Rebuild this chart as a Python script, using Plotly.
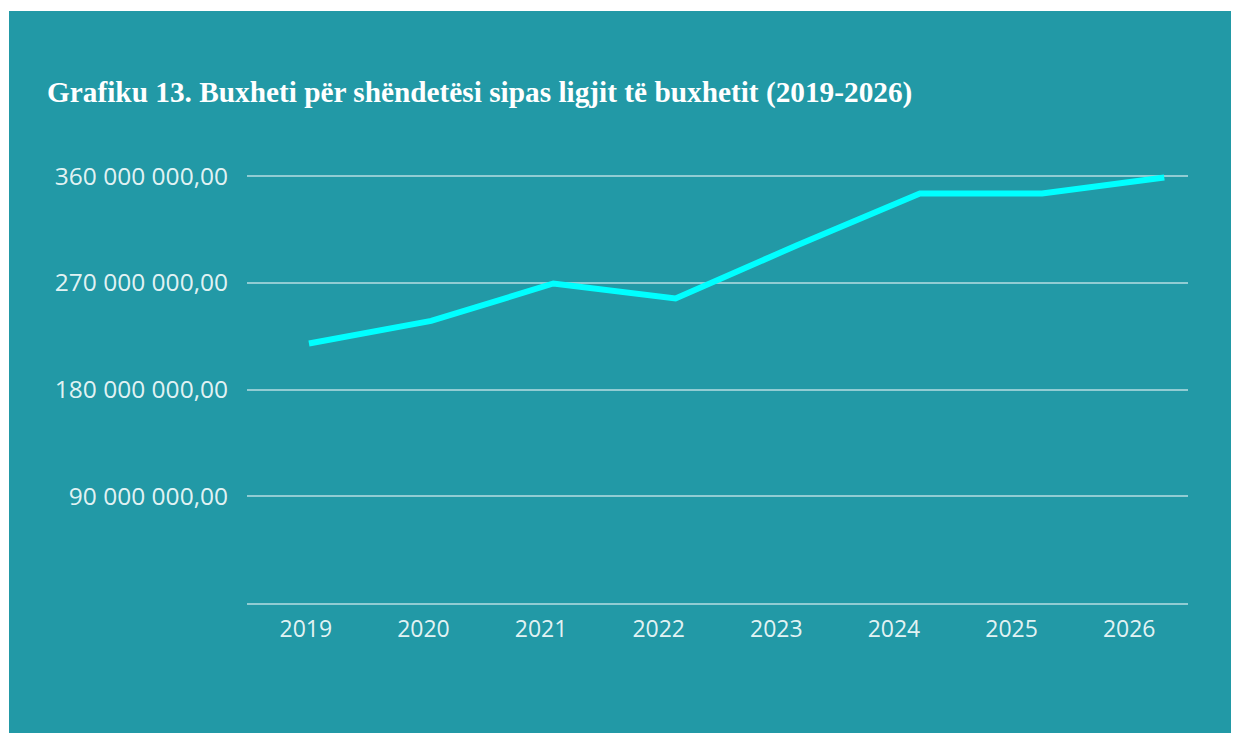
import plotly.graph_objects as go

years = ["2019", "2020", "2021", "2022", "2023", "2024", "2025", "2026"]
budget = [218.9e6, 237.9e6, 269.5e6, 256.8e6, 302.0e6, 345.4e6, 345.4e6, 358.9e6]
y_tickvals = [90e6, 180e6, 270e6, 360e6]
y_ticktext = ["90 000 000,00", "180 000 000,00", "270 000 000,00", "360 000 000,00"]
title_text = "Grafiku 13. Buxheti për shëndetësi sipas ligjit të buxhetit (2019-2026)"

TEAL = "#2299a6"
GRID = "rgba(255,255,255,0.5)"
LABEL = "rgba(245,252,252,0.93)"

# the page body adds an 8px offset, so the figure is sized to end at the window edge
W, H = 1231, 725
ml, mr, mt, mb = 239, 51, 142, 130
pw, ph = W - ml - mr, H - mt - mb

fig = go.Figure()
fig.add_trace(go.Scatter(
    x=years, y=budget, mode="lines", xaxis="x2", yaxis="y",
    line=dict(color="#00ffff", width=6),
    hoverinfo="x+y", showlegend=False,
))
# invisible trace to populate the label axis
fig.add_trace(go.Scatter(x=years, y=[None] * len(years), xaxis="x",
                         mode="lines", showlegend=False, hoverinfo="skip"))

white_strips = [
    dict(type="rect", xref="paper", yref="paper", layer="below",
         x0=-ml / pw - 0.05, x1=(1 - ml) / pw,
         y0=-(mb + 20) / ph, y1=(H - mb + 20) / ph,
         fillcolor="white", line=dict(width=0)),
    dict(type="rect", xref="paper", yref="paper", layer="below",
         x0=-ml / pw - 0.05, x1=(W + 20 - ml) / pw,
         y0=(H - mb - 3) / ph, y1=(H - mb + 20) / ph,
         fillcolor="white", line=dict(width=0)),
]

fig.update_layout(
    width=W, height=H,
    margin=dict(l=ml, r=mr, t=mt, b=mb, pad=0),
    paper_bgcolor=TEAL,
    plot_bgcolor="rgba(0,0,0,0)",
    shapes=white_strips,
    title=dict(
        text="<b>" + title_text + "</b>",
        font=dict(family="Liberation Serif, Times New Roman, serif", size=29.3, color="white"),
        xref="container", yref="container",
        x=39 / W, xanchor="left", y=1 - 83.5 / H, yanchor="middle",
    ),
    xaxis=dict(
        type="category", categoryarray=years, range=[-0.5, 7.5],
        showgrid=False, zeroline=False, showline=True,
        linecolor=GRID, linewidth=1.5,
        ticks="", ticklabelstandoff=5,
        tickfont=dict(family="Open Sans", size=23, color=LABEL),
        fixedrange=True,
    ),
    xaxis2=dict(
        type="category", categoryarray=years, overlaying="x",
        range=[-0.507, 7.194], visible=False, fixedrange=True,
    ),
    yaxis=dict(
        range=[0, ph / 1.1856 * 1e6],
        tickvals=y_tickvals, ticktext=y_ticktext,
        showgrid=True, gridcolor=GRID, gridwidth=1.5,
        zeroline=False, showline=False, ticks="",
        ticklabelstandoff=18,
        tickfont=dict(family="Open Sans", size=24.5, color=LABEL),
        fixedrange=True,
    ),
)

fig.write_html("out.html")
